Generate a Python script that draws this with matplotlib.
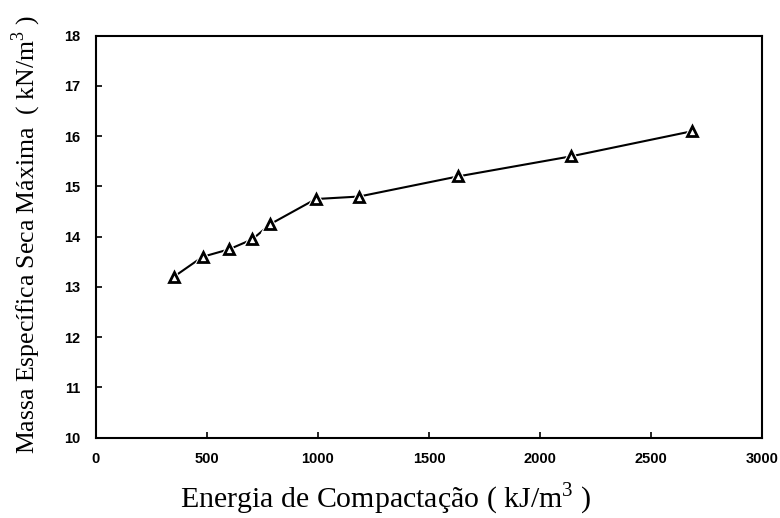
import matplotlib
matplotlib.use('Agg')
import matplotlib.pyplot as plt

# dados
energia = [350, 480, 600, 705, 785, 990, 1185, 1630, 2140, 2685]
massa = [13.2, 13.6, 13.75, 13.95, 14.25, 14.75, 14.8, 15.2, 15.6, 16.1]
x_ticks = [0, 500, 1000, 1500, 2000, 2500, 3000]
y_ticks = [10, 11, 12, 13, 14, 15, 16, 17, 18]

plt.rcParams['mathtext.fontset'] = 'custom'
plt.rcParams['mathtext.rm'] = 'Liberation Serif'

fig = plt.figure(figsize=(7.8, 5.18), dpi=100)
ax = fig.add_axes([0.123, 0.155, 0.854, 0.776])

ax.plot(energia, massa, color='black', linewidth=1.5, zorder=2)
# white halo so the line stops short of each marker
ax.plot(energia, massa, linestyle='none', marker='^', markersize=13,
        markerfacecolor='white', markeredgecolor='white', zorder=3)
ax.plot(energia, massa, linestyle='none', marker='^', markersize=7.5,
        markerfacecolor='white', markeredgecolor='black', markeredgewidth=2, zorder=4)

ax.set_xlim(0, 3000)
ax.set_ylim(10, 18)
ax.set_xticks(x_ticks)
ax.set_yticks(y_ticks)
ax.tick_params(direction='in', length=4, width=1.2, top=False, right=False)
ax.tick_params(axis='x', pad=10)
ax.tick_params(axis='y', pad=11)
for lab in ax.get_xticklabels() + ax.get_yticklabels():
    lab.set_fontfamily('Liberation Sans')
    lab.set_fontweight('bold')
    lab.set_fontsize(10.5)
for sp in ax.spines.values():
    sp.set_linewidth(1.5)

ax.set_xlabel('Energia de Compactação ( kJ/m$^3$ )', fontfamily='Liberation Serif',
              fontsize=21.5, va='center')
ax.xaxis.set_label_coords(0.435, -0.152)
ax.set_ylabel('Massa Específica Seca Máxima  ( kN/m$^3$ )', fontfamily='Liberation Serif',
              fontsize=18.5, va='center')
ax.yaxis.set_label_coords(-0.104, 0.505)

plt.savefig('out.png', dpi=100)
plt.close(fig)
